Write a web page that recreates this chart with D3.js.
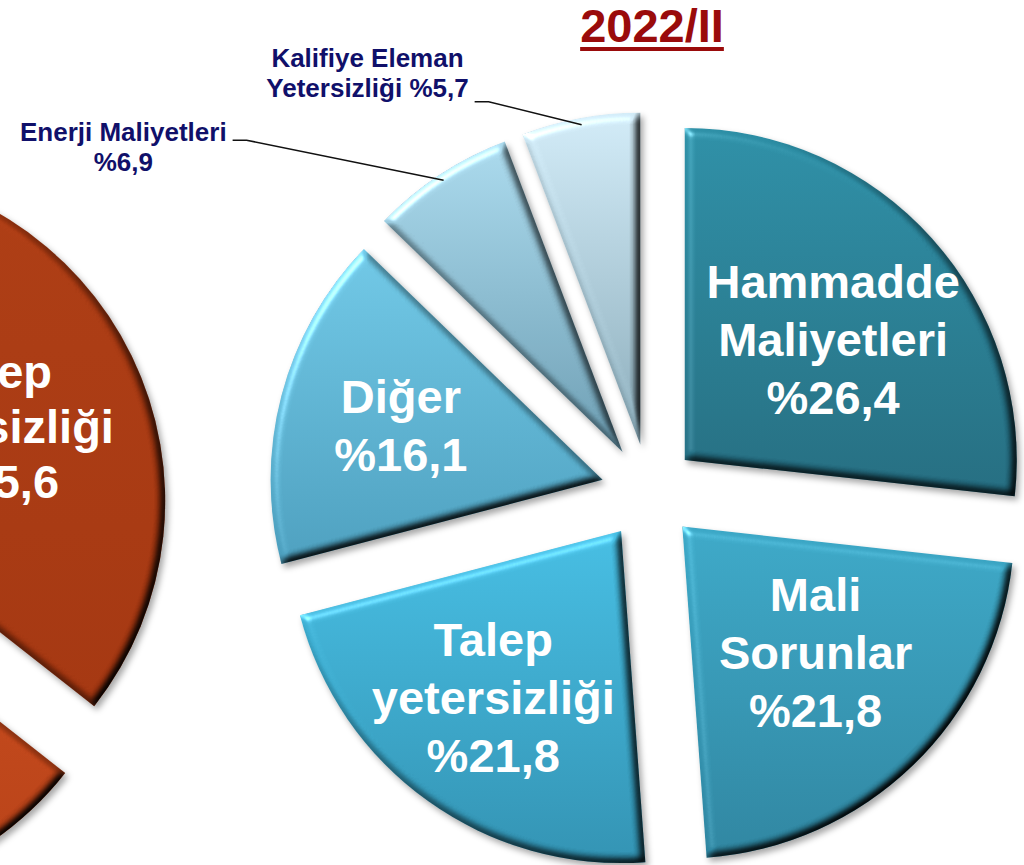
<!DOCTYPE html>
<html>
<head>
<meta charset="utf-8">
<script src="https://cdn.jsdelivr.net/npm/d3@7"></script>
<style>
  body { margin: 0; background: #fff; }
  text { font-family: "Liberation Sans", Arial, sans-serif; font-weight: bold; }
</style>
</head>
<body>
<script>
// Data (2022/II)
var categories = ['Hammadde Maliyetleri', 'Mali Sorunlar', 'Talep yetersizliği', 'Diğer', 'Enerji Maliyetleri', 'Kalifiye Eleman Yetersizliği'];
var values = [26.4, 21.8, 21.8, 16.1, 6.9, 5.7];
var nameLines = [['Hammadde', 'Maliyetleri'], ['Mali', 'Sorunlar'], ['Talep', 'yetersizliği'], ['Diğer'], ['Enerji Maliyetleri'], ['Kalifiye Eleman', 'Yetersizliği']];

// previous chart, cut off at the left edge (2022/I)
var leftCategories = ['Talep yetersizliği', 'sonraki dilim'];
var leftValues = [35.6, 19.3];
var leftNameLines = [['Talep', 'yetersizliği']];

var title = '2022/II';

// Colours
var sliceColors = [['#2b8da4', '#226a7e'], ['#3aa6c5', '#2c839e'], ['#43bbe0', '#2f90b0'],
                   ['#6dc5e3', '#4a9dbc'], ['#a8d7ea', '#6a9bb0'], ['#cfe8f4', '#88a9b7']];
var leftColors = [['#ab3a11', '#a2340e'], ['#c4481a', '#b53e14']];

var width = 1024;
var height = 865;
var radius = 332;
var explode = 48;
var cx = 649, cy = 492;
var leftCx = -210, leftCy = 522;
var lineH = 58;

var fmt = v => '%' + d3.format('.1f')(v).replace('.', ',');

var svg = d3.select('body').append('svg')
    .attr('width', width)
    .attr('height', height);

var defs = svg.append('defs');

// bevel + drop shadow filter
var f = defs.append('filter')
    .attr('id', 'bevel')
    .attr('x', '-10%').attr('y', '-10%')
    .attr('width', '125%').attr('height', '125%')
    .attr('color-interpolation-filters', 'sRGB');
f.append('feGaussianBlur').attr('in', 'SourceAlpha').attr('stdDeviation', 4).attr('result', 'blur');
f.append('feDiffuseLighting')
    .attr('in', 'blur').attr('surfaceScale', 6).attr('diffuseConstant', 1.3)
    .attr('lighting-color', '#fff').attr('result', 'diff')
  .append('feDistantLight').attr('azimuth', 225).attr('elevation', 50);
f.append('feComposite').attr('in', 'diff').attr('in2', 'SourceAlpha').attr('operator', 'in').attr('result', 'diffIn');
f.append('feBlend').attr('in', 'SourceGraphic').attr('in2', 'diffIn').attr('mode', 'multiply').attr('result', 'shaded');
f.append('feSpecularLighting')
    .attr('in', 'blur').attr('surfaceScale', 5).attr('specularConstant', 0.38)
    .attr('specularExponent', 25).attr('lighting-color', '#fff').attr('result', 'spec')
  .append('feDistantLight').attr('azimuth', 225).attr('elevation', 35);
f.append('feComposite').attr('in', 'spec').attr('in2', 'SourceAlpha').attr('operator', 'in').attr('result', 'specIn');
f.append('feComposite').attr('in', 'specIn').attr('in2', 'shaded')
    .attr('operator', 'arithmetic').attr('k1', 0).attr('k2', 1).attr('k3', 1).attr('k4', 0).attr('result', 'lit');
f.append('feGaussianBlur').attr('in', 'SourceAlpha').attr('stdDeviation', 3).attr('result', 'sblur');
f.append('feOffset').attr('in', 'sblur').attr('dx', 3).attr('dy', 4).attr('result', 'soff');
f.append('feFlood').attr('flood-color', '#000').attr('flood-opacity', 0.35).attr('result', 'sflood');
f.append('feComposite').attr('in', 'sflood').attr('in2', 'soff').attr('operator', 'in').attr('result', 'shadow');
var merge = f.append('feMerge');
merge.append('feMergeNode').attr('in', 'shadow');
merge.append('feMergeNode').attr('in', 'lit');

function addGradient(id, c) {
  var g = defs.append('linearGradient').attr('id', id)
      .attr('x1', 0).attr('y1', 0).attr('x2', 0).attr('y2', 1);
  g.append('stop').attr('offset', '0%').attr('stop-color', c[0]);
  g.append('stop').attr('offset', '100%').attr('stop-color', c[1]);
}
sliceColors.forEach((c, i) => addGradient('grad' + i, c));
leftColors.forEach((c, i) => addGradient('lgrad' + i, c));

// offset along the middle angle of a slice
function polar(d, dist) {
  var m = (d.startAngle + d.endAngle) / 2;
  return [dist * Math.sin(m), -dist * Math.cos(m)];
}

var arc = d3.arc().innerRadius(0).outerRadius(radius);

// ---- left, cut-off chart ----
var angle = d3.scaleLinear().domain([0, 100]).range([0, 2 * Math.PI]);
var leftArcs = [];
var acc = 0;
leftValues.forEach((v, i) => {
  leftArcs.push({ startAngle: angle(acc), endAngle: angle(acc + v), index: i });
  acc += v;
});

var gl = svg.append('g').attr('transform', 'translate(' + leftCx + ',' + leftCy + ')');
gl.selectAll('path')
  .data(leftArcs)
  .enter()
  .append('path')
    .attr('transform', d => 'translate(' + polar(d, explode) + ')')
    .attr('d', arc)
    .attr('fill', d => 'url(#lgrad' + d.index + ')')
    .attr('filter', 'url(#bevel)');

leftArcs.slice(0, leftNameLines.length).forEach((d, i) => {
  var a = polar(d, explode), b = polar(d, radius * 0.52);
  var lines = leftNameLines[i].concat([fmt(leftValues[i])]);
  var t = gl.append('text')
      .attr('text-anchor', 'middle')
      .attr('fill', '#fff')
      .style('font-size', '47px');
  lines.forEach((s, k) => {
    t.append('tspan')
      .attr('x', a[0] + b[0] + 4)
      .attr('y', a[1] + b[1] - (lines.length - 1) / 2 * 55 + 17 + k * 55)
      .text(s);
  });
});

// ---- main chart ----
var pie = d3.pie().sort(null).value(d => d);
var arcs = pie(values);

var g = svg.append('g').attr('transform', 'translate(' + cx + ',' + cy + ')');

g.selectAll('path')
  .data(arcs)
  .enter()
  .append('path')
    .attr('transform', d => 'translate(' + polar(d, explode) + ')')
    .attr('d', arc)
    .attr('fill', (d, i) => 'url(#grad' + i + ')')
    .attr('filter', 'url(#bevel)');

// inside labels
var labelNudge = [[0, 12], [-5, -18], [-12, 4], [-9, -4]];
arcs.forEach((d, i) => {
  if (values[i] < 10) return;
  var a = polar(d, explode), b = polar(d, radius * 0.6);
  var lines = nameLines[i].concat([fmt(values[i])]);
  var x = a[0] + b[0] + labelNudge[i][0];
  var y = a[1] + b[1] + labelNudge[i][1];
  var t = g.append('text')
      .attr('text-anchor', 'middle')
      .attr('fill', '#fff')
      .style('font-size', '47px');
  lines.forEach((s, k) => {
    t.append('tspan')
      .attr('x', x)
      .attr('y', y - (lines.length - 1) / 2 * lineH + 17 + k * lineH)
      .text(s);
  });
});

// outside labels with leader lines
var outerLayout = {
  'Enerji Maliyetleri': { dx: -197, dy: -40, baseLine: 0, baseDy: 1 },
  'Kalifiye Eleman Yetersizliği': { dx: -93, dy: -23, baseLine: 1, baseDy: -5 }
};
arcs.forEach((d, i) => {
  if (values[i] >= 10) return;
  var L = outerLayout[categories[i]];
  var a = polar(d, explode), b = polar(d, radius * 0.98);
  var end = [a[0] + b[0], a[1] + b[1]];
  var elbow = [end[0] + L.dx, end[1] + L.dy];
  var start = [elbow[0] - 14, elbow[1]];

  g.append('polyline')
    .attr('points', [start, elbow, end].map(p => p.join(',')).join(' '))
    .attr('fill', 'none')
    .attr('stroke', '#111')
    .attr('stroke-width', 1.5);

  var lines = nameLines[i].slice();
  if (lines.length > 1) lines[lines.length - 1] += ' ' + fmt(values[i]);
  else lines.push(fmt(values[i]));

  var t = g.append('text')
      .attr('text-anchor', 'middle')
      .attr('fill', '#10106a')
      .style('font-size', '26px');
  var spans = lines.map((s, k) => t.append('tspan')
      .attr('y', elbow[1] + L.baseDy + (k - L.baseLine) * 30)
      .text(s));
  var maxW = d3.max(spans, s => s.node().getComputedTextLength());
  spans.forEach(s => s.attr('x', start[0] - 6 - maxW / 2));
});

// title
var tt = svg.append('text')
    .attr('x', cx + 3)
    .attr('y', 42)
    .attr('text-anchor', 'middle')
    .attr('fill', '#9a0b0b')
    .style('font-size', '47px')
    .text(title);
var tw = tt.node().getComputedTextLength();
svg.append('rect')
    .attr('x', cx + 3 - tw / 2)
    .attr('y', 47)
    .attr('width', tw)
    .attr('height', 4)
    .attr('fill', '#9a0b0b');
</script>
</body>
</html>
